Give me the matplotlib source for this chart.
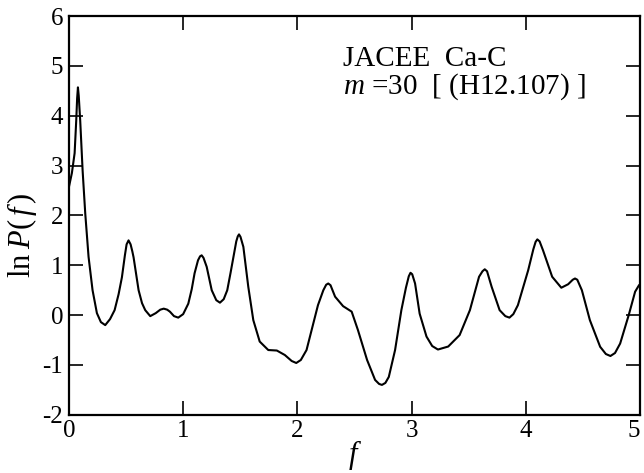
import matplotlib
matplotlib.use("Agg")
import matplotlib.pyplot as plt

plt.rcParams['font.family'] = ['Liberation Serif', 'DejaVu Serif']
plt.rcParams['mathtext.fontset'] = 'custom'
plt.rcParams['mathtext.rm'] = 'Liberation Serif'
plt.rcParams['mathtext.it'] = 'Liberation Serif:italic'
plt.rcParams['axes.unicode_minus'] = False

# f values and ln P(f)
f_vals = [0.000, 0.026, 0.050, 0.064, 0.072, 0.079, 0.086, 0.099, 0.120, 0.143,
          0.172, 0.207, 0.245, 0.280, 0.318, 0.360, 0.400, 0.435, 0.464, 0.490,
          0.505, 0.522, 0.540, 0.555, 0.566, 0.590, 0.610, 0.640, 0.668, 0.712,
          0.760, 0.800, 0.830, 0.860, 0.884, 0.920, 0.957, 1.000, 1.045, 1.075,
          1.100, 1.130, 1.148, 1.162, 1.178, 1.206, 1.250, 1.290, 1.322, 1.355,
          1.386, 1.415, 1.440, 1.465, 1.478, 1.489, 1.502, 1.527, 1.570, 1.614,
          1.670, 1.745, 1.820, 1.890, 1.950, 1.990, 2.030, 2.080, 2.130, 2.180,
          2.227, 2.252, 2.270, 2.290, 2.330, 2.400, 2.475, 2.530, 2.610, 2.680,
          2.715, 2.740, 2.770, 2.800, 2.855, 2.910, 2.950, 2.975, 2.990, 3.005,
          3.030, 3.070, 3.130, 3.180, 3.230, 3.320, 3.420, 3.510, 3.590, 3.620,
          3.640, 3.660, 3.700, 3.770, 3.820, 3.856, 3.890, 3.930, 4.020, 4.065,
          4.085, 4.100, 4.120, 4.150, 4.230, 4.310, 4.370, 4.410, 4.430, 4.450,
          4.490, 4.560, 4.650, 4.700, 4.740, 4.780, 4.825, 4.900, 4.956, 4.990,
          5.000]
lnP_vals = [2.57, 2.85, 3.25, 3.90, 4.35, 4.57, 4.40, 3.90, 2.90, 2.04,
            1.17, 0.50, 0.04, -0.14, -0.20, -0.08, 0.10, 0.42, 0.76, 1.20,
            1.42, 1.50, 1.42, 1.28, 1.16, 0.80, 0.50, 0.24, 0.10, -0.02,
            0.04, 0.11, 0.13, 0.11, 0.07, -0.02, -0.05, 0.02, 0.23, 0.52,
            0.84, 1.10, 1.18, 1.20, 1.15, 0.97, 0.50, 0.30, 0.25, 0.32,
            0.50, 0.85, 1.17, 1.48, 1.58, 1.62, 1.57, 1.37, 0.57, -0.10,
            -0.53, -0.70, -0.71, -0.80, -0.92, -0.96, -0.90, -0.70, -0.25, 0.20,
            0.50, 0.61, 0.635, 0.60, 0.37, 0.18, 0.07, -0.30, -0.90, -1.30,
            -1.38, -1.40, -1.36, -1.24, -0.70, 0.10, 0.55, 0.78, 0.85, 0.82,
            0.635, 0.03, -0.43, -0.62, -0.69, -0.63, -0.40, 0.10, 0.77, 0.88,
            0.92, 0.88, 0.57, 0.10, -0.02, -0.05, 0.02, 0.20, 0.90, 1.32,
            1.47, 1.52, 1.48, 1.30, 0.77, 0.55, 0.62, 0.71, 0.735, 0.71,
            0.50, -0.10, -0.635, -0.78, -0.82, -0.76, -0.57, 0.00, 0.47, 0.60,
            0.62]

x_ticks = [0, 1, 2, 3, 4, 5]
y_ticks = [-2, -1, 0, 1, 2, 3, 4, 5, 6]

fig = plt.figure(figsize=(6.44, 4.73), dpi=100)
ax = fig.add_axes([0.107, 0.123, 0.887, 0.843])
ax.plot(f_vals, lnP_vals, color='black', lw=1.5, solid_joinstyle='round')
ax.set_xlim(0, 5)
ax.set_ylim(-2, 6)
ax.set_xticks(x_ticks)
ax.set_yticks(y_ticks)
ax.tick_params(direction='in', length=10, width=1.2, top=True, right=True,
               labelsize=18, pad=4)
ax.get_xticklabels()[-1].set_horizontalalignment('right')
for s in ax.spines.values():
    s.set_linewidth(1.6)
ax.set_xlabel(r'$f$', fontsize=22)
ax.xaxis.set_label_coords(0.50, -0.058)
ax.set_ylabel(r'$\mathrm{ln}\;P(\,f\,)$', fontsize=22)
ax.yaxis.set_label_coords(-0.052, 0.45)
ax.text(0.48, 0.892, 'JACEE  Ca-C', transform=ax.transAxes, fontsize=21, va='center')
ax.text(0.48, 0.822, r'$m$ =30  [ (H12.107) ]', transform=ax.transAxes, fontsize=21, va='center')

fig.savefig('out.png', dpi=100)
